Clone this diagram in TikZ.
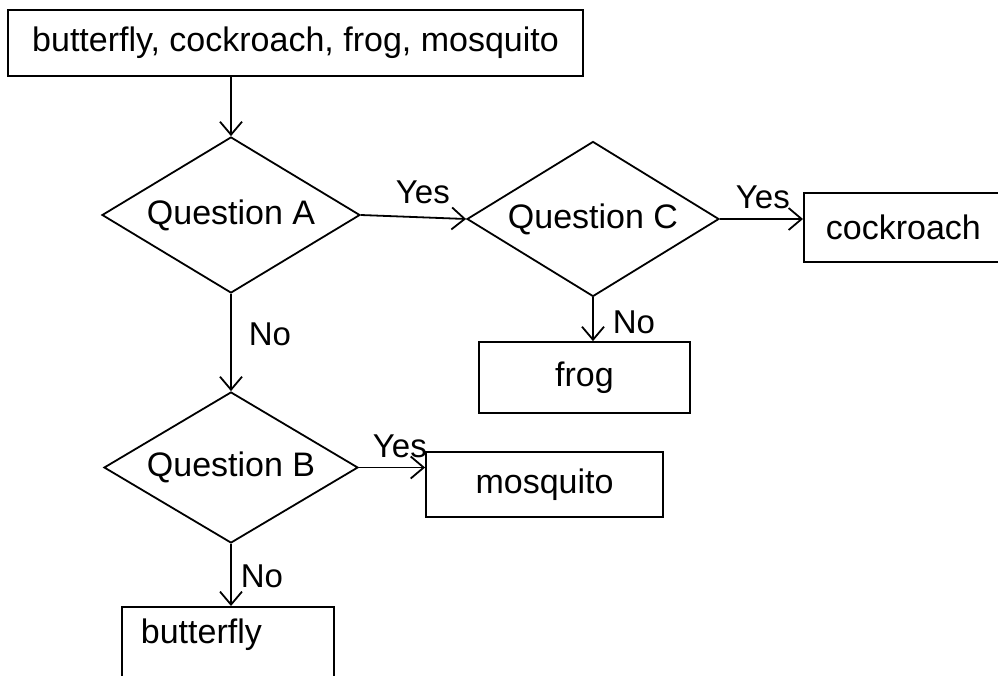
\documentclass[tikz,border=0pt]{standalone}
\usepackage{fontspec}
\setmainfont{Liberation Sans}
\usetikzlibrary{shapes.geometric,arrows.meta}

\begin{document}
\begin{tikzpicture}[x=1pt,y=1pt,line width=1.8pt,
  >={Straight Barb[length=13pt,width=22pt]},
  box/.style={draw,font=\fontsize{34}{40}\selectfont,inner sep=0pt,minimum height=66pt},
  quest/.style={diamond,aspect=1.65,draw,font=\fontsize{34}{40}\selectfont,inner sep=0pt},
  lab/.style={font=\fontsize{33}{40}\selectfont,inner sep=0pt}]
\useasboundingbox (0,0) rectangle (998,-675);
% start box
\node[box,minimum width=575pt] (all) at (295.5,-43) {butterfly, cockroach, frog, mosquito};
% the three questions
\node[quest,minimum width=258pt,minimum height=156pt] (qa) at (231,-215) {Question A};
\node[quest,minimum width=252pt,minimum height=155pt] (qc) at (593,-219) {Question C};
\node[quest,minimum width=254pt,minimum height=151pt] (qb) at (231,-467.5) {Question B};
% answers
\node[box,anchor=west,inner xsep=22pt,text width=160pt,minimum height=69pt] (cock) at (803,-227.5) {cockroach};
\node[box,minimum width=211pt,minimum height=71pt] (frog) at (584.5,-377.5) {frog};
\node[box,minimum width=237pt,minimum height=65pt] (mosq) at (544.5,-484.5) {mosquito};
\node[box,anchor=north west,inner xsep=19pt,inner ysep=9pt,text width=174pt,
  text height=28pt,text depth=50pt] (bfly) at (121,-606) {butterfly};
% connectors
\draw[->] (qa.north |- all.south) -- (qa.north);
\draw[->] (qa.east) -- (qc.west);
\draw[->] (qc.east) -- (qc.east -| cock.west);
\draw[->] (qc.south) -- (qc.south |- frog.north);
\draw[->] (qa.south) -- (qb.north);
\draw[->] (qb.east) -- (qb.east -| mosq.west);
\draw[->] (qb.south) -- (qb.south |- bfly.north);
% yes / no labels
\node[lab,anchor=base west] (yesA) at (395,-203) {Yes};
\node[lab,anchor=base west] (yesC) at (735,-208) {Yes};
\node[lab,anchor=base west] (noC) at (612,-333) {No};
\node[lab,anchor=base west] (noA) at (248,-345) {No};
\node[lab,anchor=base west] (yesB) at (372,-457) {Yes};
\node[lab,anchor=base west] (noB) at (240,-587) {No};
\end{tikzpicture}
\end{document}
